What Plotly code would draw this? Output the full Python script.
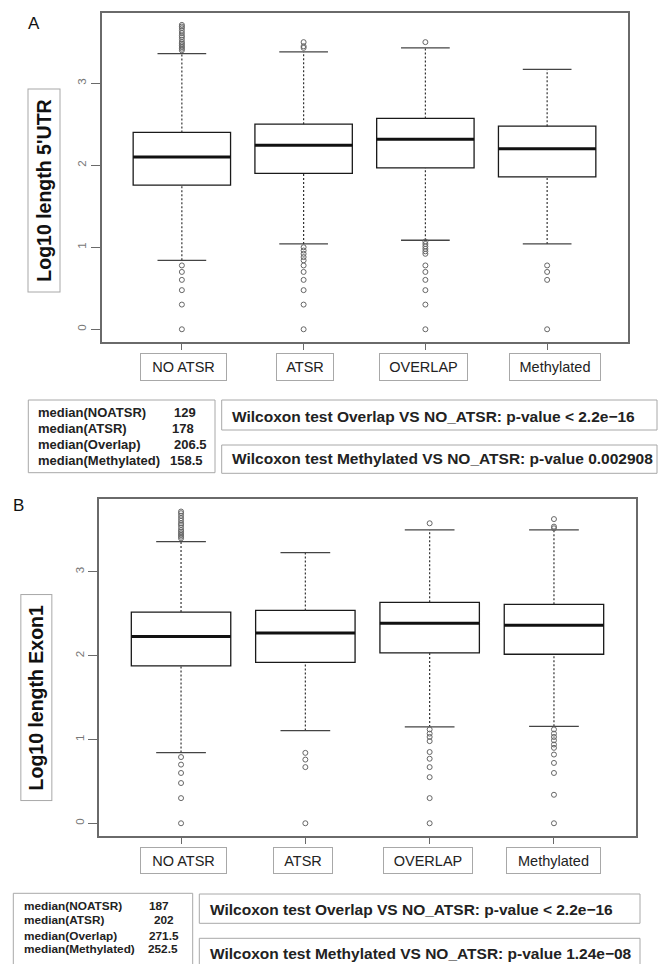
import plotly.graph_objects as go

W, H = 658, 964
FONT = "Arial, Liberation Sans, sans-serif"

# ---------------- data ----------------
categories = ["NO ATSR", "ATSR", "OVERLAP", "Methylated"]
xpos = [1, 2, 3, 4]

# Panel A: log10 length 5'UTR
utr_q1 = [1.756, 1.90, 1.967, 1.857]
utr_med = [2.10, 2.244, 2.317, 2.20]
utr_q3 = [2.40, 2.50, 2.57, 2.476]
utr_lo = [0.84, 1.04, 1.085, 1.04]
utr_hi = [3.36, 3.38, 3.43, 3.167]
utr_out = [
    [3.40, 3.42, 3.44, 3.46, 3.48, 3.50, 3.53, 3.56, 3.58, 3.61, 3.64, 3.67, 3.69, 3.71,
     0.778, 0.699, 0.602, 0.477, 0.301, 0.0],
    [3.43, 3.45, 3.50,
     1.0, 0.96, 0.92, 0.88, 0.84, 0.778, 0.699, 0.602, 0.477, 0.301, 0.0],
    [3.50,
     1.07, 1.04, 1.01, 0.98, 0.95, 0.92, 0.778, 0.699, 0.602, 0.477, 0.301, 0.0],
    [0.778, 0.699, 0.602, 0.0],
]
utr_medians_txt = ["129", "178", "206.5", "158.5"]
utr_tests = ["Wilcoxon test Overlap VS NO_ATSR: p-value < 2.2e\u221216",
             "Wilcoxon test Methylated VS NO_ATSR: p-value 0.002908"]

# Panel B: log10 length Exon1
ex_q1 = [1.877, 1.92, 2.033, 2.017]
ex_med = [2.23, 2.27, 2.387, 2.363]
ex_q3 = [2.52, 2.54, 2.637, 2.613]
ex_lo = [0.843, 1.106, 1.15, 1.157]
ex_hi = [3.36, 3.23, 3.50, 3.50]
ex_out = [
    [3.40, 3.42, 3.44, 3.46, 3.48, 3.50, 3.53, 3.56, 3.58, 3.61, 3.64, 3.67, 3.70, 3.72,
     0.79, 0.70, 0.60, 0.48, 0.30, 0.0],
    [0.84, 0.76, 0.67, 0.0],
    [3.58,
     1.12, 1.07, 1.03, 0.98, 0.85, 0.77, 0.67, 0.55, 0.30, 0.0],
    [3.63, 3.54, 3.52,
     1.12, 1.07, 1.03, 0.99, 0.94, 0.90, 0.82, 0.72, 0.60, 0.34, 0.0],
]
ex_medians_txt = ["187", "202", "271.5", "252.5"]
ex_tests = ["Wilcoxon test Overlap VS NO_ATSR: p-value < 2.2e\u221216",
            "Wilcoxon test Methylated VS NO_ATSR: p-value 1.24e\u221208"]

median_labels = ["median(NOATSR)", "median(ATSR)", "median(Overlap)", "median(Methylated)"]

# ---------------- figure ----------------
fig = go.Figure()

BOXW = 0.8
CAPW = 0.4


def px_x(p):
    return p / W


def px_y(p):
    return 1 - p / H


def add_panel(xa, ya, q1, med, q3, lo, hi, outs):
    fig.add_trace(go.Box(
        x=xpos, q1=q1, median=med, q3=q3, lowerfence=q1, upperfence=q3,
        width=BOXW, fillcolor="white", line=dict(color="#1a1a1a", width=1.3),
        whiskerwidth=0, boxpoints=False, hoverinfo="skip", showlegend=False,
        xaxis=xa, yaxis=ya))
    mx, my = [], []
    wx, wy = [], []
    cx, cy = [], []
    for i, xc in enumerate(xpos):
        mx += [xc - BOXW / 2, xc + BOXW / 2, None]
        my += [med[i], med[i], None]
        wx += [xc, xc, None, xc, xc, None]
        wy += [q3[i], hi[i], None, lo[i], q1[i], None]
        cx += [xc - CAPW / 2, xc + CAPW / 2, None, xc - CAPW / 2, xc + CAPW / 2, None]
        cy += [hi[i], hi[i], None, lo[i], lo[i], None]
    fig.add_trace(go.Scatter(x=wx, y=wy, mode="lines", line=dict(color="#333", width=1.2, dash="2px,2px"),
                             hoverinfo="skip", showlegend=False, xaxis=xa, yaxis=ya))
    fig.add_trace(go.Scatter(x=cx, y=cy, mode="lines", line=dict(color="#444", width=1.3),
                             hoverinfo="skip", showlegend=False, xaxis=xa, yaxis=ya))
    fig.add_trace(go.Scatter(x=mx, y=my, mode="lines", line=dict(color="#111", width=3),
                             hoverinfo="skip", showlegend=False, xaxis=xa, yaxis=ya))
    ox, oy = [], []
    for i, xc in enumerate(xpos):
        for v in outs[i]:
            ox.append(xc)
            oy.append(v)
    fig.add_trace(go.Scatter(x=ox, y=oy, mode="markers",
                             marker=dict(symbol="circle-open", size=5, color="#666", line=dict(width=1)),
                             hoverinfo="skip", showlegend=False, xaxis=xa, yaxis=ya))


add_panel("x", "y", utr_q1, utr_med, utr_q3, utr_lo, utr_hi, utr_out)
add_panel("x2", "y2", ex_q1, ex_med, ex_q3, ex_lo, ex_hi, ex_out)

axis_common = dict(showgrid=False, zeroline=False, showline=True, mirror=True,
                   linecolor="#6a6a6a", linewidth=1.5, ticks="outside", tickcolor="#6a6a6a",
                   tickwidth=1.2)

xdomA = [px_x(101.5), px_x(627.5)]
ydomA = [px_y(342), px_y(13)]
xdomB = [px_x(99), px_x(636)]
ydomB = [px_y(836), px_y(499.3)]

fig.update_layout(
    width=W, height=H, margin=dict(l=0, r=0, t=0, b=0),
    paper_bgcolor="white", plot_bgcolor="white",
    font=dict(family=FONT, color="#222"),
    xaxis=dict(domain=xdomA, range=[0.34, 4.66], tickvals=xpos, showticklabels=False,
               ticklen=6, anchor="y", **axis_common),
    yaxis=dict(domain=ydomA, range=[-0.155, 3.855], tickvals=[0, 1, 2, 3], ticklen=9,
               tickangle=-90, tickfont=dict(size=11.5, color="#777"), anchor="x", **axis_common),
    xaxis2=dict(domain=xdomB, range=[0.34, 4.66], tickvals=xpos, showticklabels=False,
                ticklen=6, anchor="y2", **axis_common),
    yaxis2=dict(domain=ydomB, range=[-0.152, 3.866], tickvals=[0, 1, 2, 3], ticklen=9,
                tickangle=-90, tickfont=dict(size=11.5, color="#777"), anchor="x2", **axis_common),
)

ann = []
shapes = []
BORDER = "#a8a8a8"

# panel letters
ann.append(dict(text="A", x=px_x(34), y=px_y(23), xref="paper", yref="paper",
                showarrow=False, font=dict(size=17, color="#111"), xanchor="center", yanchor="middle"))
ann.append(dict(text="B", x=px_x(18), y=px_y(505.5), xref="paper", yref="paper",
                showarrow=False, font=dict(size=17, color="#111"), xanchor="center", yanchor="middle"))


# y-axis titles in boxes
def ytitle(text, x0, x1, y0, y1):
    ann.append(dict(text="<b>" + text + "</b>", x=px_x((x0 + x1) / 2), y=px_y((y0 + y1) / 2),
                    xref="paper", yref="paper", showarrow=False, textangle=-90,
                    width=(y1 - y0) - 2, height=(x1 - x0) - 2, borderpad=0, borderwidth=1,
                    bordercolor=BORDER, font=dict(size=19.5, color="#111"),
                    xanchor="center", yanchor="middle"))


ytitle("Log10 length 5'UTR", 28, 61, 89, 293)
ytitle("Log10 length Exon1", 20.7, 52.7, 594, 800.7)

# category labels in boxes
labA_w = [87, 58, 89, 92]
labA_shift = [2, 1, -2, 8]
labB_w = [87, 60, 90, 95]
labB_shift = [2, -2, -2, 0]
for i, c in enumerate(categories):
    ann.append(dict(text=c, x=xpos[i], xref="x", y=px_y(366.7), yref="paper", xshift=labA_shift[i],
                    showarrow=False, width=labA_w[i] - 2, height=26, borderpad=0, borderwidth=1,
                    bordercolor=BORDER, font=dict(size=14.5, color="#222"),
                    xanchor="center", yanchor="middle"))
    ann.append(dict(text=c, x=xpos[i], xref="x2", y=px_y(860.7), yref="paper", xshift=labB_shift[i],
                    showarrow=False, width=labB_w[i] - 2, height=25, borderpad=0, borderwidth=1,
                    bordercolor=BORDER, font=dict(size=14.5, color="#222"),
                    xanchor="center", yanchor="middle"))


def rect(x0, y0, x1, y1):
    shapes.append(dict(type="rect", xref="paper", yref="paper",
                       x0=px_x(x0), x1=px_x(x1), y0=px_y(y1), y1=px_y(y0),
                       line=dict(color=BORDER, width=1), fillcolor="rgba(0,0,0,0)"))


def text_at(t, x, y, size):
    ann.append(dict(text="<b>" + t + "</b>", x=px_x(x), y=px_y(y), xref="paper", yref="paper",
                    showarrow=False, xanchor="left", yanchor="middle",
                    font=dict(size=size, color="#222")))


# Panel A info boxes
rect(28.3, 400, 215, 472.7)
rect(221.7, 400, 657, 430)
rect(221.7, 445, 657, 473.3)
for lab, num, yc, nx in zip(median_labels, utr_medians_txt, [412.7, 428.3, 444.3, 460],
                            [171.7, 170, 172.3, 168.3]):
    text_at(lab, 36, yc, 13)
    text_at(num, nx, yc, 13)
for t, yc in zip(utr_tests, [416, 458.3]):
    text_at(t, 230, yc, 15.5)

# Panel B info boxes
rect(13.3, 893.3, 192.7, 970)
rect(199.3, 894, 640, 923.3)
rect(199.3, 938.3, 640, 970)
for lab, num, yc, nx in zip(median_labels, ex_medians_txt, [906, 920, 935.7, 949.3],
                            [146.7, 151.7, 146.7, 146]):
    text_at(lab, 21.7, yc, 11.8)
    text_at(num, nx, yc, 11.8)
for t, yc in zip(ex_tests, [909.3, 953.3]):
    text_at(t, 208.3, yc, 15.5)

fig.update_layout(annotations=ann, shapes=shapes)

fig.write_html("out.html", config={"displayModeBar": False},
               post_script="document.body.style.margin='0';document.body.style.overflow='hidden';")
